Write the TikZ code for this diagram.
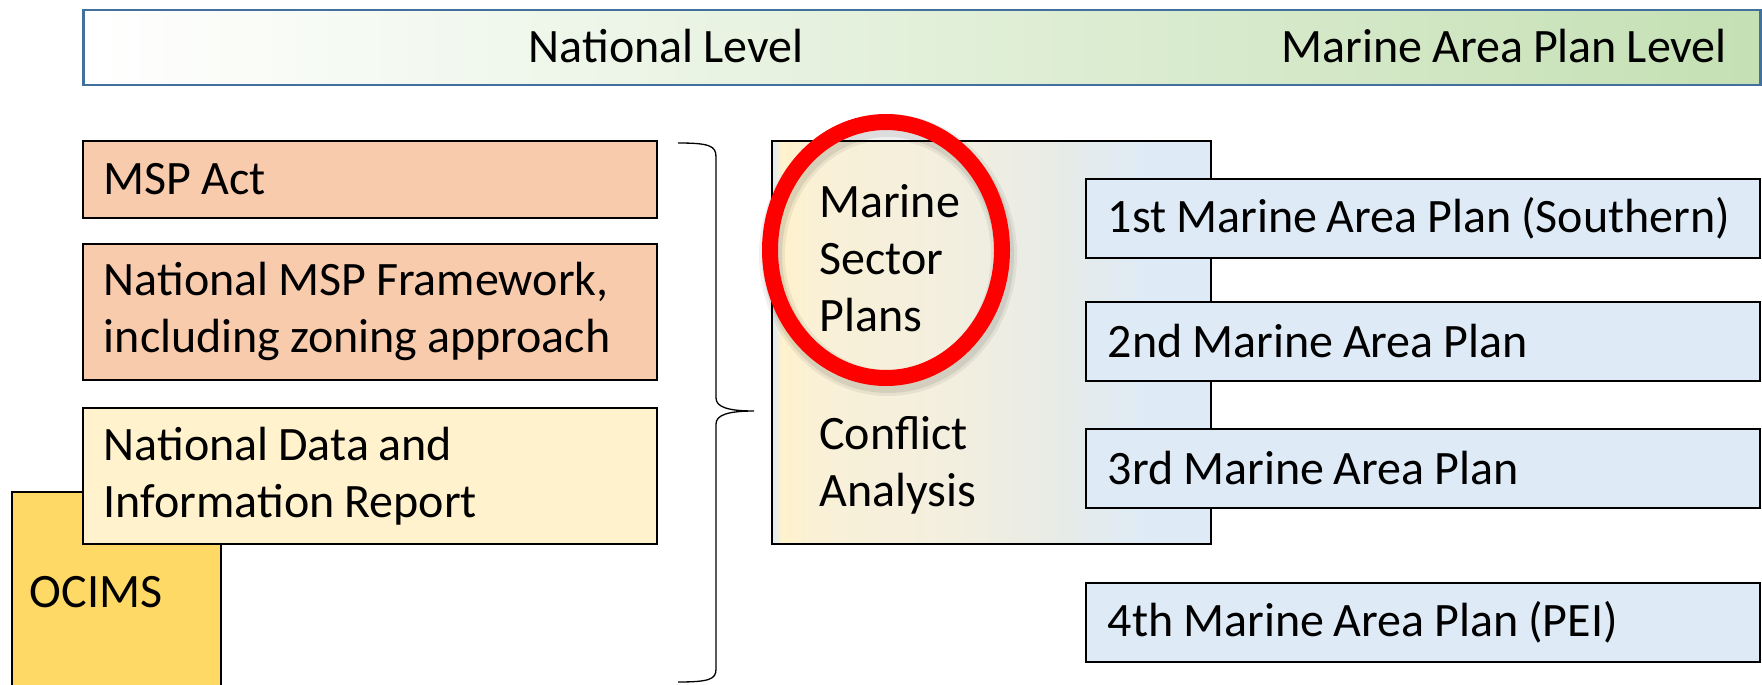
\documentclass[tikz,border=0pt]{standalone}
\usepackage{fontspec}
\setmainfont[WordSpace=0.9]{Carlito}
\definecolor{bnr}{HTML}{41719C}
\definecolor{grn}{HTML}{C5E0B4}
\definecolor{peach}{HTML}{F8CBAD}
\definecolor{cream}{HTML}{FFF2CC}
\definecolor{gold}{HTML}{FFD966}
\definecolor{lblue}{HTML}{DEEBF7}
\definecolor{ycream}{HTML}{F9F0D6}
\definecolor{midc}{HTML}{E8EBE6}
\definecolor{ymid}{HTML}{F3EFDF}
\pgfdeclarehorizontalshading{bigshade}{100bp}{color(0bp)=(lblue); color(25bp)=(lblue); color(26.2bp)=(cream); color(30bp)=(ycream); color(45bp)=(ymid); color(57bp)=(midc); color(68bp)=(lblue); color(100bp)=(lblue)}
\begin{document}
\begin{tikzpicture}[x=1pt,y=-1pt,
  font=\fontsize{48}{57}\selectfont,
  box/.style={draw=black, line width=1.8pt, anchor=north west, inner xsep=21pt, inner ysep=0pt, align=left,
    execute at begin node={\spaceskip=0pt\xspaceskip=0pt\relax}},
  lbox/.style={box, minimum width=574pt, text width=532pt},
  rbox/.style={box, fill=lblue, minimum width=674pt, minimum height=79pt, inner xsep=22pt, text width=630pt},
  plain/.style={inner sep=0pt, align=left}]
\useasboundingbox (0,0) rectangle (1762,685);
% banner
\node[draw=bnr, line width=2.5pt, left color=white, right color=grn, anchor=north west,
      minimum width=1677pt, minimum height=75pt, inner sep=0pt] (banner) at (82,9) {};
\node[plain] (nat) at (666,46) {National Level};
\node[plain, anchor=east] (mapl) at (1727,46) {Marine Area Plan Level};
% left column
\node[lbox, fill=peach, minimum height=77pt] (act) at (82,140) {MSP Act};
\node[lbox, fill=peach, minimum height=136pt] (frame) at (82,243) {National MSP Framework,\\including zoning approach};
\node[box, fill=gold, minimum width=209pt, minimum height=200pt, inner xsep=18pt, text width=173pt] (ocims) at (11,491) {OCIMS};
\node[lbox, fill=cream, minimum height=136pt] (data) at (82,407) {National Data and\\Information Report};
% brace
\coordinate (bt) at (678,143);
\coordinate (bb) at (678,682);
\coordinate (btip) at (754,411);
\draw[line width=1.3pt] (bt) .. controls (710,143) and (716,146) .. (716,157) -- (716,398)
  .. controls (716,407) and (728,411) .. (btip)
  .. controls (728,411) and (716,415) .. (716,424) -- (716,669)
  .. controls (716,679) and (710,682) .. (bb);
% sector box
\node[draw=black, line width=2pt, shading=bigshade, anchor=north west,
      minimum width=439pt, minimum height=403pt, inner sep=0pt] (sect) at (771,140) {};
\node[plain, anchor=west] (msp) at (819,258) {Marine\\Sector\\Plans};
\node[plain, anchor=west] (conf) at (819,465) {Conflict\\Analysis};
\coordinate (ringc) at (886,250);
\coordinate (shc) at (888,255);
\draw[black, opacity=0.06, line width=26pt] (shc) ellipse [x radius=116, y radius=128];
\draw[black, opacity=0.08, line width=20pt] (shc) ellipse [x radius=116, y radius=128];
\draw[red, line width=16pt] (ringc) ellipse [x radius=116, y radius=128];
% marine area plans
\node[rbox] (m1) at (1085,178) {\mbox{1st Marine Area Plan (Southern)}};
\node[rbox] (m2) at (1085,301) {2nd Marine Area Plan};
\node[rbox] (m3) at (1085,428) {3rd Marine Area Plan};
\node[rbox] (m4) at (1085,582) {4th Marine Area Plan (PEI)};
\end{tikzpicture}
\end{document}
